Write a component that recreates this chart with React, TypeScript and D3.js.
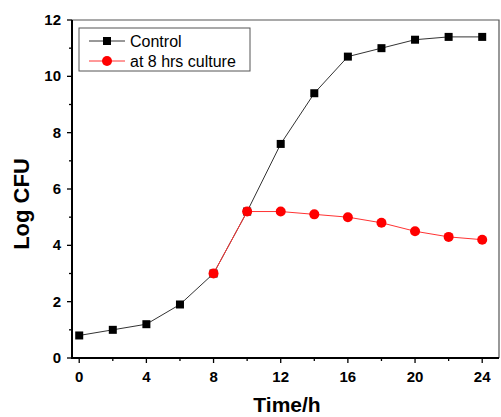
import React, { useEffect, useRef } from 'react';
import * as d3 from 'd3';

const hours = [0, 2, 4, 6, 8, 10, 12, 14, 16, 18, 20, 22, 24];
const controlValues = [0.8, 1.0, 1.2, 1.9, 3.0, 5.2, 7.6, 9.4, 10.7, 11.0, 11.3, 11.4, 11.4];
const cultureHours = [8, 10, 12, 14, 16, 18, 20, 22, 24];
const cultureValues = [3.0, 5.2, 5.2, 5.1, 5.0, 4.8, 4.5, 4.3, 4.2];
const xTicks = [0, 4, 8, 12, 16, 20, 24];
const yTicks = [0, 2, 4, 6, 8, 10, 12];
const legendLabels = ['Control', 'at 8 hrs culture'];

const App = () => {
  const svgRef = useRef<SVGSVGElement>(null);

  useEffect(() => {
    const W = 501, H = 417;
    const left = 72, right = 499, top = 20, bottom = 358;
    const font = 'Liberation Sans, Arial, sans-serif';
    const svg = d3.select(svgRef.current);
    svg.selectAll('*').remove();

    const x = d3.scaleLinear().domain([-0.43, 25.0]).range([left, right]);
    const y = d3.scaleLinear().domain([0, 12]).range([bottom, top]);

    // frame (top / right)
    svg.append('path')
      .attr('d', `M${left},${top}H${right}V${bottom}`)
      .attr('fill', 'none').attr('stroke', '#555').attr('stroke-width', 1.2);

    // x axis
    const gx = svg.append('g').attr('transform', `translate(0,${bottom})`);
    gx.append('line').attr('x1', left).attr('x2', right).attr('stroke', '#000').attr('stroke-width', 2);
    d3.range(0, 25, 2).forEach(t => {
      const major = t % 4 === 0;
      gx.append('line').attr('x1', x(t)).attr('x2', x(t)).attr('y1', 0).attr('y2', major ? 5 : 3)
        .attr('stroke', '#000').attr('stroke-width', 1.3);
    });
    xTicks.forEach(t => {
      gx.append('text').attr('x', x(t)).attr('y', 24).attr('text-anchor', 'middle')
        .attr('font-family', font).attr('font-weight', 'bold')
        .attr('font-size', 15).text(t);
    });

    // y axis
    const gy = svg.append('g').attr('transform', `translate(${left},0)`);
    gy.append('line').attr('y1', top).attr('y2', bottom + 1).attr('stroke', '#000').attr('stroke-width', 2);
    d3.range(0, 13, 1).forEach(t => {
      const major = t % 2 === 0;
      gy.append('line').attr('y1', y(t)).attr('y2', y(t)).attr('x1', 0).attr('x2', major ? -5 : -3)
        .attr('stroke', '#000').attr('stroke-width', 1.3);
    });
    yTicks.forEach(t => {
      gy.append('text').attr('x', -11).attr('y', y(t) + 5).attr('text-anchor', 'end')
        .attr('font-family', font).attr('font-weight', 'bold')
        .attr('font-size', 15).text(t);
    });

    // axis titles
    svg.append('text').attr('transform', `translate(29,204) rotate(-90)`).attr('text-anchor', 'middle')
      .attr('font-family', font).attr('font-weight', 'bold')
      .attr('font-size', 22).text('Log CFU');
    svg.append('text').attr('x', 287).attr('y', 412).attr('text-anchor', 'middle')
      .attr('font-family', font).attr('font-weight', 'bold')
      .attr('font-size', 21).text('Time/h');

    const line = d3.line<number>();
    const control = hours.map((h, i) => [x(h), y(controlValues[i])] as [number, number]);
    const culture = cultureHours.map((h, i) => [x(h), y(cultureValues[i])] as [number, number]);

    svg.append('path').attr('d', line(control as any)).attr('fill', 'none')
      .attr('stroke', '#333').attr('stroke-width', 1);
    control.forEach(([cx, cy]) => {
      svg.append('rect').attr('x', cx - 4).attr('y', cy - 4).attr('width', 8).attr('height', 8).attr('fill', '#000');
    });
    svg.append('path').attr('d', line(culture as any)).attr('fill', 'none')
      .attr('stroke', '#ff3333').attr('stroke-width', 1);
    culture.forEach(([cx, cy]) => {
      svg.append('circle').attr('cx', cx).attr('cy', cy).attr('r', 5).attr('fill', '#ff0000');
    });

    // legend
    const lg = svg.append('g');
    lg.append('rect').attr('x', 79).attr('y', 28).attr('width', 171).attr('height', 43)
      .attr('fill', '#fff').attr('stroke', '#555').attr('stroke-width', 1);
    legendLabels.forEach((label, i) => {
      const ly = 41 + i * 20;
      lg.append('line').attr('x1', 89).attr('x2', 125).attr('y1', ly).attr('y2', ly)
        .attr('stroke', i === 0 ? '#333' : '#ff3333').attr('stroke-width', 1);
      if (i === 0) {
        lg.append('rect').attr('x', 103).attr('y', ly - 4).attr('width', 8).attr('height', 8).attr('fill', '#000');
      } else {
        lg.append('circle').attr('cx', 107).attr('cy', ly).attr('r', 5).attr('fill', '#ff0000');
      }
      lg.append('text').attr('x', 130).attr('y', ly + 6).attr('font-size', 16)
        .attr('font-family', font).text(label);
    });

    svg.attr('width', W).attr('height', H);
  }, []);

  return (
    <svg ref={svgRef} width={501} height={417}
      style={{ position: 'absolute', left: 0, top: 0, background: '#fff' }} />
  );
};

export default App;
